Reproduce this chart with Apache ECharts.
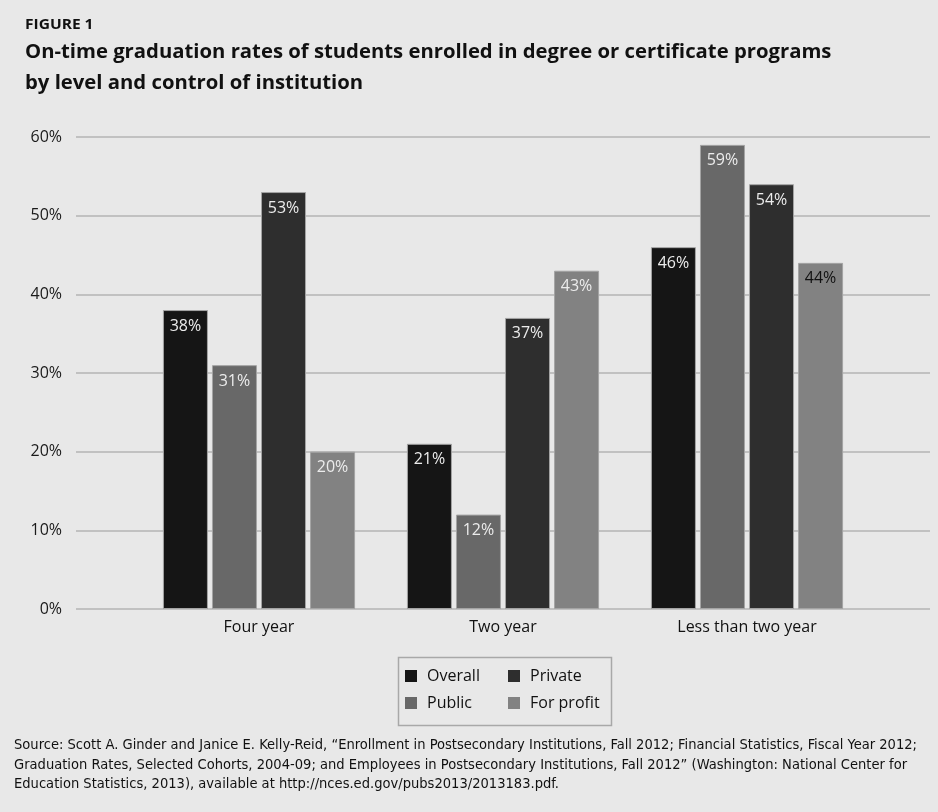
<!DOCTYPE html>
<html>
<head>
<meta charset="utf-8">
<script src="https://cdn.jsdelivr.net/npm/echarts@6/dist/echarts.min.js"></script>
<style>
  html, body { margin: 0; padding: 0; background: #e8e8e8; }
  #chart { width: 938px; height: 812px; }
</style>
</head>
<body>
<div id="chart"></div>
<script>
// Institution levels along the x axis
const categories = ['Four year', 'Two year', 'Less than two year'];
// On-time graduation rates (%) by control of institution
const overall   = [38, 21, 46];
const publicRt  = [31, 12, 59];
const privateRt = [53, 37, 54];
const forProfit = [20, 43, 44];
// Percent tick labels on the value axis
const yTicks = [0, 10, 20, 30, 40, 50, 60];

const seriesNames = ['Overall', 'Public', 'Private', 'For profit'];
const seriesValues = [overall, publicRt, privateRt, forProfit];
const barColors = ['#151515', '#686868', '#2e2e2e', '#828282'];

const FONT = '"Open Sans", "Noto Sans", sans-serif';
const NARROW = '"Liberation Sans Narrow", "DejaVu Sans Condensed", sans-serif';

// The label on the last "Less than two year" for-profit bar is dark
function labelColor(seriesIdx, catIdx) {
  return (seriesIdx === 3 && catIdx === 2) ? '#111111' : '#ececec';
}

const series = seriesNames.map((name, s) => ({
  name: name,
  type: 'bar',
  xAxisIndex: 1,
  yAxisIndex: 1,
  barWidth: 45,
  barGap: '9%',
  itemStyle: { color: barColors[s], borderColor: '#a4a4a4', borderWidth: 1 },
  label: {
    show: true,
    position: 'insideTop',
    distance: 8,
    fontFamily: FONT,
    fontSize: 16,
    formatter: p => p.value + '%'
  },
  data: seriesValues[s].map((v, c) => ({ value: v, label: { color: labelColor(s, c) } }))
}));

const legendBase = {
  orient: 'vertical', top: 668, padding: 0,
  itemWidth: 12, itemHeight: 12, itemGap: 11,
  icon: 'rect',
  itemStyle: { borderWidth: 0 },
  textStyle: { color: '#111', fontFamily: FONT, fontSize: 16, lineHeight: 16, padding: [0, 0, 0, 5] }
};

const chart = echarts.init(document.getElementById('chart'), null, { renderer: 'canvas' });
chart.setOption({
  backgroundColor: '#e8e8e8',
  animation: false,
  grid: [
    { left: 76, right: 8, top: 137, height: 472 },
    { left: 137, right: 69, top: 137, height: 472 }
  ],
  xAxis: [
    { type: 'category', gridIndex: 0, data: [''], show: false },
    {
      type: 'category', gridIndex: 1, data: categories,
      axisLine: { show: false }, axisTick: { show: false },
      axisLabel: { color: '#111', fontFamily: FONT, fontSize: 16, margin: 10 }
    }
  ],
  yAxis: [
    {
      type: 'value', gridIndex: 0, min: yTicks[0], max: yTicks[yTicks.length - 1], interval: 10,
      axisLine: { show: false }, axisTick: { show: false },
      axisLabel: { color: '#1a1a1a', fontFamily: FONT, fontSize: 16, margin: 14, formatter: '{value}%' },
      splitLine: { lineStyle: { color: '#b4b4b4', width: 1.5 } }
    },
    { type: 'value', gridIndex: 1, min: 0, max: 60, interval: 10, show: false }
  ],
  legend: [
    Object.assign({}, legendBase, { left: 405, data: ['Overall', 'Public'] }),
    Object.assign({}, legendBase, { left: 508, data: ['Private', 'For profit'] })
  ],
  graphic: [
    {
      type: 'rect', left: 396, top: 655,
      shape: { width: 213, height: 68 },
      style: { fill: 'none', stroke: '#a8a8a8', lineWidth: 1.5 }
    },
    {
      type: 'text', x: 25, y: 18, scaleX: 1.15,
      style: { text: 'FIGURE 1', font: 'bold 13.5px ' + FONT, fill: '#111' }
    },
    {
      type: 'text', left: 25, top: 37,
      style: {
        text: 'On-time graduation rates of students enrolled in degree or certificate programs\nby level and control of institution',
        font: 'bold 20.3px ' + FONT, fill: '#111', lineHeight: 31
      }
    },
    {
      type: 'text', x: 14, y: 736, scaleX: 1.04,
      style: {
        text: 'Source: Scott A. Ginder and Janice E. Kelly-Reid, \u201cEnrollment in Postsecondary Institutions, Fall 2012; Financial Statistics, Fiscal Year 2012;\nGraduation Rates, Selected Cohorts, 2004-09; and Employees in Postsecondary Institutions, Fall 2012\u201d (Washington: National Center for\nEducation Statistics, 2013), available at http://nces.ed.gov/pubs2013/2013183.pdf.',
        font: '14px ' + NARROW, fill: '#111', lineHeight: 19.5
      }
    }
  ],
  series: series
});
</script>
</body>
</html>
